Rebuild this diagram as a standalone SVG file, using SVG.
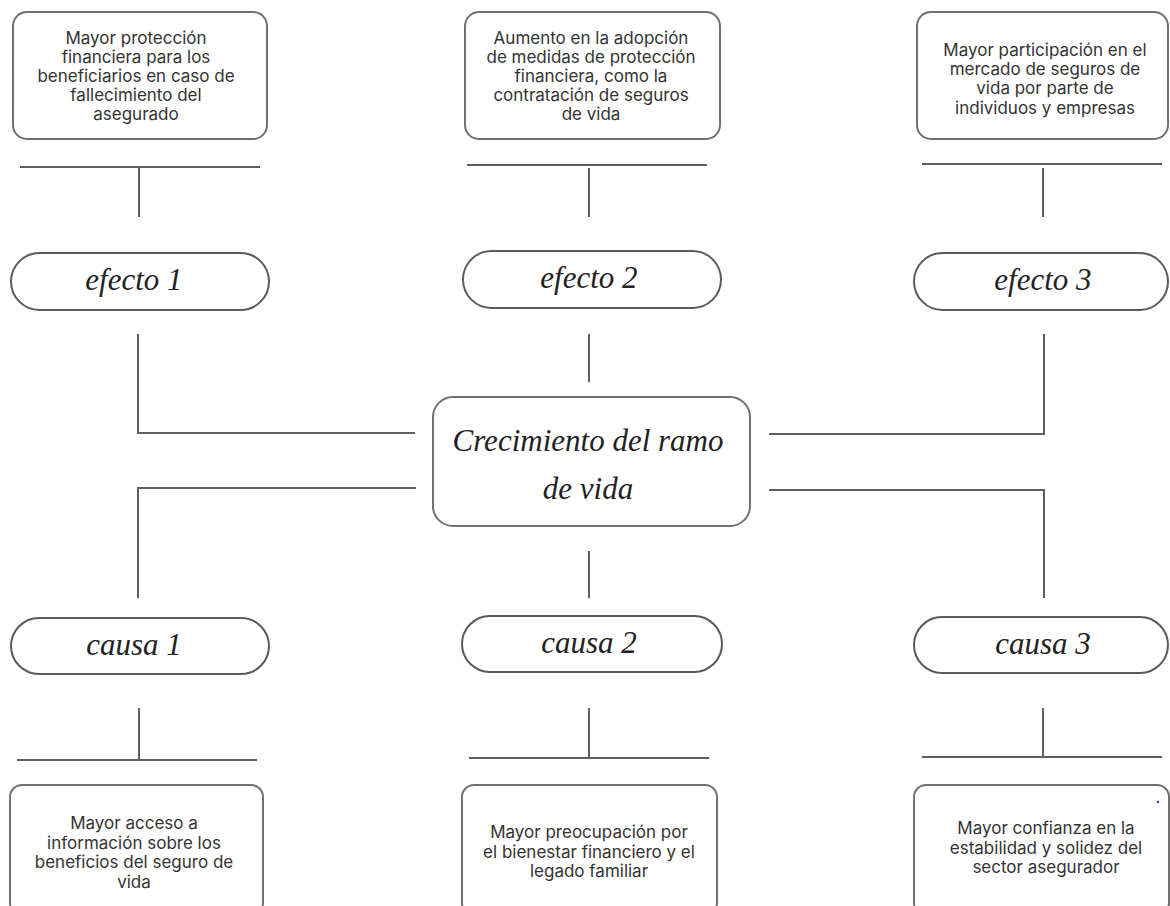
<svg xmlns="http://www.w3.org/2000/svg" width="1170" height="906" viewBox="0 0 1170 906">
<style>
.box{fill:#fff;stroke:#707070;stroke-width:2}
.pill{fill:#fff;stroke:#5a5a5a;stroke-width:2}
.ln{stroke:#5f5f5f;stroke-width:2;fill:none}
.t{font-family:Inter,"Liberation Sans",sans-serif;font-size:17px;fill:#333;text-anchor:middle}
.s{font-family:"Liberation Serif",serif;font-style:italic;fill:#222;text-anchor:middle}
</style>
<rect width="1170" height="906" fill="#fff"/>
<g id="connectors">
<path class="ln" d="M20 167H260M139 167V217"/>
<path class="ln" d="M467 165H707M589 168V217"/>
<path class="ln" d="M922 164H1162M1043 168V217"/>
<path class="ln" d="M138 334V433H415"/>
<path class="ln" d="M589 334V382"/>
<path class="ln" d="M1044 334V434H769"/>
<path class="ln" d="M416 488H138V598"/>
<path class="ln" d="M769 490H1044V598"/>
<path class="ln" d="M589 551V598"/>
<path class="ln" d="M139 708V760M17 760H257"/>
<path class="ln" d="M589 708V758M469 758H709"/>
<path class="ln" d="M1043 708V757M922 757H1162"/>
</g>
<g id="efecto1-desc">
<rect class="box" x="13" y="12" width="254" height="127" rx="14"/>
<text class="t"><tspan x="136" y="44">Mayor protección</tspan><tspan x="136" y="63">financiera para los</tspan><tspan x="136" y="82">beneficiarios en caso de</tspan><tspan x="136" y="101">fallecimiento del</tspan><tspan x="136" y="120">asegurado</tspan></text>
</g>
<g id="efecto2-desc">
<rect class="box" x="465" y="12" width="255" height="127" rx="14"/>
<text class="t"><tspan x="591" y="44">Aumento en la adopción</tspan><tspan x="591" y="63">de medidas de protección</tspan><tspan x="591" y="82">financiera, como la</tspan><tspan x="591" y="101">contratación de seguros</tspan><tspan x="591" y="120">de vida</tspan></text>
</g>
<g id="efecto3-desc">
<rect class="box" x="917" y="12" width="251" height="127" rx="14"/>
<text class="t"><tspan x="1045" y="55.5">Mayor participación en el</tspan><tspan x="1045" y="74.5">mercado de seguros de</tspan><tspan x="1045" y="94">vida por parte de</tspan><tspan x="1045" y="113.5">individuos y empresas</tspan></text>
</g>
<g id="efecto1">
<rect class="pill" x="11" y="253" width="258" height="57" rx="28.5"/>
<text class="s" x="134" y="290" font-size="31">efecto 1</text>
</g>
<g id="efecto2">
<rect class="pill" x="463" y="251" width="258" height="57" rx="28.5"/>
<text class="s" x="589" y="288" font-size="31">efecto 2</text>
</g>
<g id="efecto3">
<rect class="pill" x="914" y="253" width="254" height="57" rx="28.5"/>
<text class="s" x="1043" y="290" font-size="31">efecto 3</text>
</g>
<g id="centro">
<rect class="box" x="433" y="397" width="317" height="129" rx="20"/>
<text class="s" font-size="31"><tspan x="588" y="451">Crecimiento del ramo</tspan><tspan x="588" y="499">de vida</tspan></text>
</g>
<g id="causa1">
<rect class="pill" x="11" y="618" width="258" height="56" rx="28"/>
<text class="s" x="134" y="655" font-size="31">causa 1</text>
</g>
<g id="causa2">
<rect class="pill" x="462" y="616" width="260" height="56" rx="28"/>
<text class="s" x="589" y="653" font-size="31">causa 2</text>
</g>
<g id="causa3">
<rect class="pill" x="914" y="617" width="254" height="56" rx="28"/>
<text class="s" x="1043" y="654" font-size="31">causa 3</text>
</g>
<g id="causa1-desc">
<rect class="box" x="10" y="785" width="253" height="130" rx="12"/>
<text class="t"><tspan x="134" y="829">Mayor acceso a</tspan><tspan x="134" y="848.5">información sobre los</tspan><tspan x="134" y="868">beneficios del seguro de</tspan><tspan x="134" y="887.5">vida</tspan></text>
</g>
<g id="causa2-desc">
<rect class="box" x="462" y="785" width="255" height="130" rx="12"/>
<text class="t"><tspan x="589" y="838">Mayor preocupación por</tspan><tspan x="589" y="857.5">el bienestar financiero y el</tspan><tspan x="589" y="877">legado familiar</tspan></text>
</g>
<g id="causa3-desc">
<rect class="box" x="914" y="785" width="255" height="130" rx="12"/>
<text class="t"><tspan x="1046" y="834">Mayor confianza en la</tspan><tspan x="1046" y="853.5">estabilidad y solidez del</tspan><tspan x="1046" y="873">sector asegurador</tspan></text>
<circle cx="1158" cy="802" r="1.2" fill="#2233ee"/>
</g>
</svg>
